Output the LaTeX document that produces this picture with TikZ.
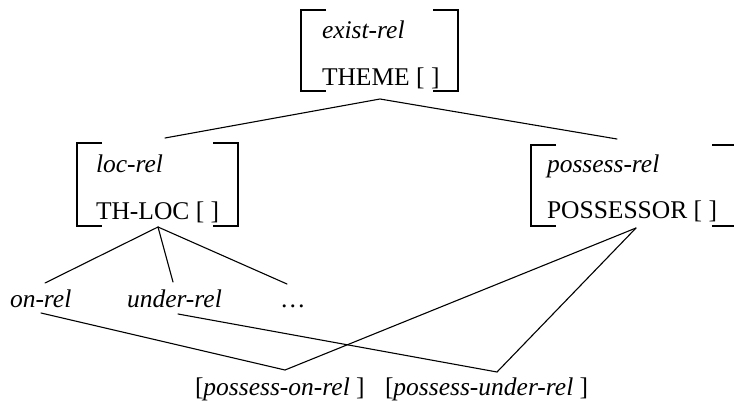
\documentclass[tikz,border=0pt]{standalone}
\usepackage{fontspec}
\setmainfont{Liberation Serif}
\begin{document}
\begin{tikzpicture}[x=1pt,y=-1pt,
  every node/.style={inner sep=0pt, outer sep=0pt, font=\fontsize{25.5}{30}\selectfont},
  txt/.style={anchor=base west},
  frame/.style={draw=none, anchor=north west},
  brk/.style={line width=1.1pt, line cap=butt, line join=miter},
  edge/.style={line width=1.1pt, line cap=round}]
\path[clip] (0,0) rectangle (734,400);

% feature-structure frames (bracket extents)
\node[frame, minimum width=157pt, minimum height=81pt] (ex) at (301,10) {};
\node[frame, minimum width=161pt, minimum height=83pt] (loc) at (77,143) {};
\node[frame, minimum width=206pt, minimum height=81pt] (pos) at (531,145) {};

% square brackets around each frame
\foreach \f in {ex,loc,pos}{
  \draw[brk] ([xshift=25pt]\f.north west) -- (\f.north west) -- (\f.south west) -- ([xshift=25pt]\f.south west);
  \draw[brk] ([xshift=-25pt]\f.north east) -- (\f.north east) -- (\f.south east) -- ([xshift=-25pt]\f.south east);
}

% frame contents
\node[txt] (exT) at (322,38) {\itshape exist-rel};
\node[txt] (exA) at (322,85) {THEME [ ]};
\node[txt] (locT) at (96,172) {\itshape loc-rel};
\node[txt] (locA) at (96,219) {TH-LOC [ ]};
\node[txt] (posT) at (547,172) {\itshape possess-rel};
\node[txt] (posA) at (547,218) {POSSESSOR [ ]};

% subtypes of loc-rel
\node[txt] (on) at (10,307) {\itshape on-rel};
\node[txt] (under) at (127,307) {\itshape under-rel};
\node[txt] (dots) at (280,307) {…};

% combined types
\node[txt] (pon) at (195,395) {[\textit{possess-on-rel} ]};
\node[txt] (pun) at (385,395) {[\textit{possess-under-rel} ]};

% attachment points of the connectors
\coordinate (exFoot) at (380,99);
\coordinate (locHead) at (165,138);
\coordinate (posHead) at (617,139);
\coordinate (locFoot) at (158,227);
\coordinate (posFoot) at (636,228);
\coordinate (onHead) at (45,283);
\coordinate (underHead) at (173,282);
\coordinate (dotsHead) at (287,284);
\coordinate (onFoot) at (41,313);
\coordinate (underFoot) at (178,314);
\coordinate (ponHead) at (285,370);
\coordinate (punHead) at (497,372);

% hierarchy lines
\draw[edge] (locHead) -- (exFoot) -- (posHead);
\draw[edge] (onHead) -- (locFoot) -- (underHead);
\draw[edge] (locFoot) -- (dotsHead);
\draw[edge] (onFoot) -- (ponHead) -- (posFoot);
\draw[edge] (underFoot) -- (punHead) -- (posFoot);
\end{tikzpicture}
\end{document}
